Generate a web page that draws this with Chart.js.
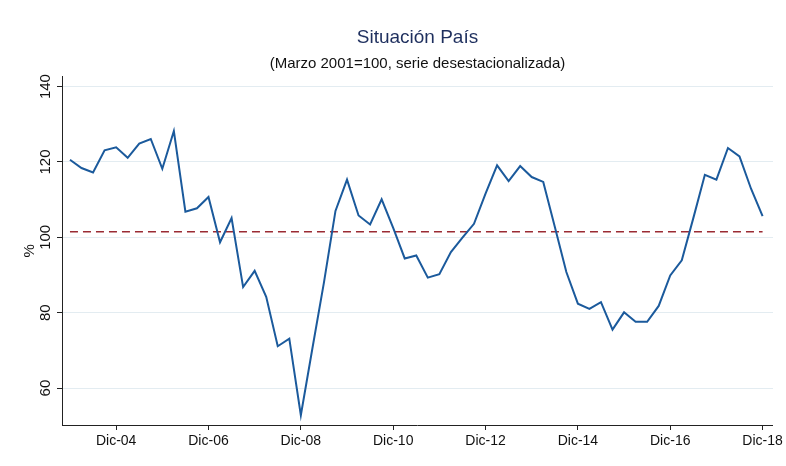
<!DOCTYPE html>
<html>
<head>
<meta charset="utf-8">
<script src="https://cdn.jsdelivr.net/npm/chart.js@4.4.1/dist/chart.umd.min.js"></script>
<style>
  html, body { margin: 0; padding: 0; background: #fff; }
  #wrap { width: 786px; height: 466px; }
</style>
</head>
<body>
<div id="wrap"><canvas id="chart" width="786" height="466"></canvas></div>
<script>
// Quarterly series, Dic-03 to Dic-18
const quarterNames = ['Mar', 'Jun', 'Sep', 'Dic'];
const firstYear = 2003;
const situacionPais = [
  120.6, 118.4, 117.2, 123.1, 123.9, 121.1, 124.9, 126.1, 118.2, 128.2,
  106.8, 107.7, 110.7, 98.7, 105.1, 86.8, 91.1, 84.2, 71.1, 73.1,
  52.8, 70.5, 88.0, 107.0, 115.3, 105.8, 103.4, 110.1, 102.5, 94.4,
  95.2, 89.3, 90.2, 96.1, 99.9, 103.6, 111.6, 119.1, 114.9, 118.9,
  116.0, 114.7, 102.8, 90.8, 82.4, 81.0, 82.8, 75.5, 80.1, 77.6,
  77.6, 81.8, 89.9, 93.9, 105.1, 116.6, 115.3, 123.7, 121.5, 112.9,
  105.6
];
const promedio = 101.5;
const yTicks = [60, 80, 100, 120, 140];
const xTickLabels = ['Dic-04', 'Dic-06', 'Dic-08', 'Dic-10', 'Dic-12', 'Dic-14', 'Dic-16', 'Dic-18'];

// Build quarter labels (Dic-03, Mar-04, ...)
const fechas = situacionPais.map((v, i) => {
  const q = (i + 3) % 4;
  const yr = firstYear + Math.floor((i + 3) / 4);
  return quarterNames[q] + '-' + String(yr).slice(2);
});
const xTickIdx = xTickLabels.map(l => fechas.indexOf(l));

const fontFam = "'Liberation Sans Narrow', 'Arial Narrow', 'Liberation Sans', Arial, sans-serif";
const axisColor = '#222222';

new Chart(document.getElementById('chart').getContext('2d'), {
  type: 'line',
  data: {
    datasets: [
      {
        label: 'Situación País',
        data: situacionPais.map((v, i) => ({ x: i, y: v })),
        borderColor: '#1b5a9c',
        borderWidth: 2,
        pointRadius: 0,
        tension: 0,
        fill: false
      },
      {
        label: 'Promedio',
        data: situacionPais.map((v, i) => ({ x: i, y: promedio })),
        borderColor: '#9a2b33',
        borderWidth: 1.5,
        borderDash: [8, 5],
        pointRadius: 0,
        fill: false
      }
    ]
  },
  options: {
    responsive: false,
    animation: false,
    layout: { padding: { left: 0, right: 12, top: 0, bottom: 0 } },
    plugins: {
      legend: { display: false },
      tooltip: { enabled: false },
      title: {
        display: true,
        text: 'Situación País',
        fullSize: false,
        color: '#1e2f5e',
        font: { family: fontFam, size: 19, weight: 'normal' },
        padding: { top: 26, bottom: 4 }
      },
      subtitle: {
        display: true,
        text: '(Marzo 2001=100, serie desestacionalizada)',
        fullSize: false,
        color: '#111111',
        font: { family: fontFam, size: 15, weight: 'normal' },
        padding: { top: 2, bottom: 4 }
      }
    },
    scales: {
      x: {
        type: 'linear',
        min: -0.69,
        max: 60.9,
        afterBuildTicks: s => { s.ticks = xTickIdx.map(v => ({ value: v })); },
        afterFit: s => { s.height = 41; },
        ticks: {
          color: '#111',
          font: { family: fontFam, size: 14 },
          padding: 3,
          maxRotation: 0,
          callback: v => fechas[v]
        },
        grid: { drawOnChartArea: false, tickLength: 5, tickColor: axisColor },
        border: { color: axisColor, width: 1 }
      },
      y: {
        min: 50.2,
        max: 142.6,
        afterBuildTicks: s => { s.ticks = yTicks.map(v => ({ value: v })); },
        afterFit: s => { s.width = 62; },
        ticks: {
          color: '#111',
          font: { family: fontFam, size: 15 },
          padding: -1,
          minRotation: 90,
          maxRotation: 90,
          crossAlign: 'center'
        },
        title: {
          display: true,
          text: '%',
          color: '#111',
          font: { family: fontFam, size: 15 },
          padding: { top: 21, bottom: 0 }
        },
        grid: { color: '#e3ecf1', lineWidth: 1, tickLength: 5, tickColor: axisColor },
        border: { color: axisColor, width: 1 }
      }
    }
  }
});
</script>
</body>
</html>
